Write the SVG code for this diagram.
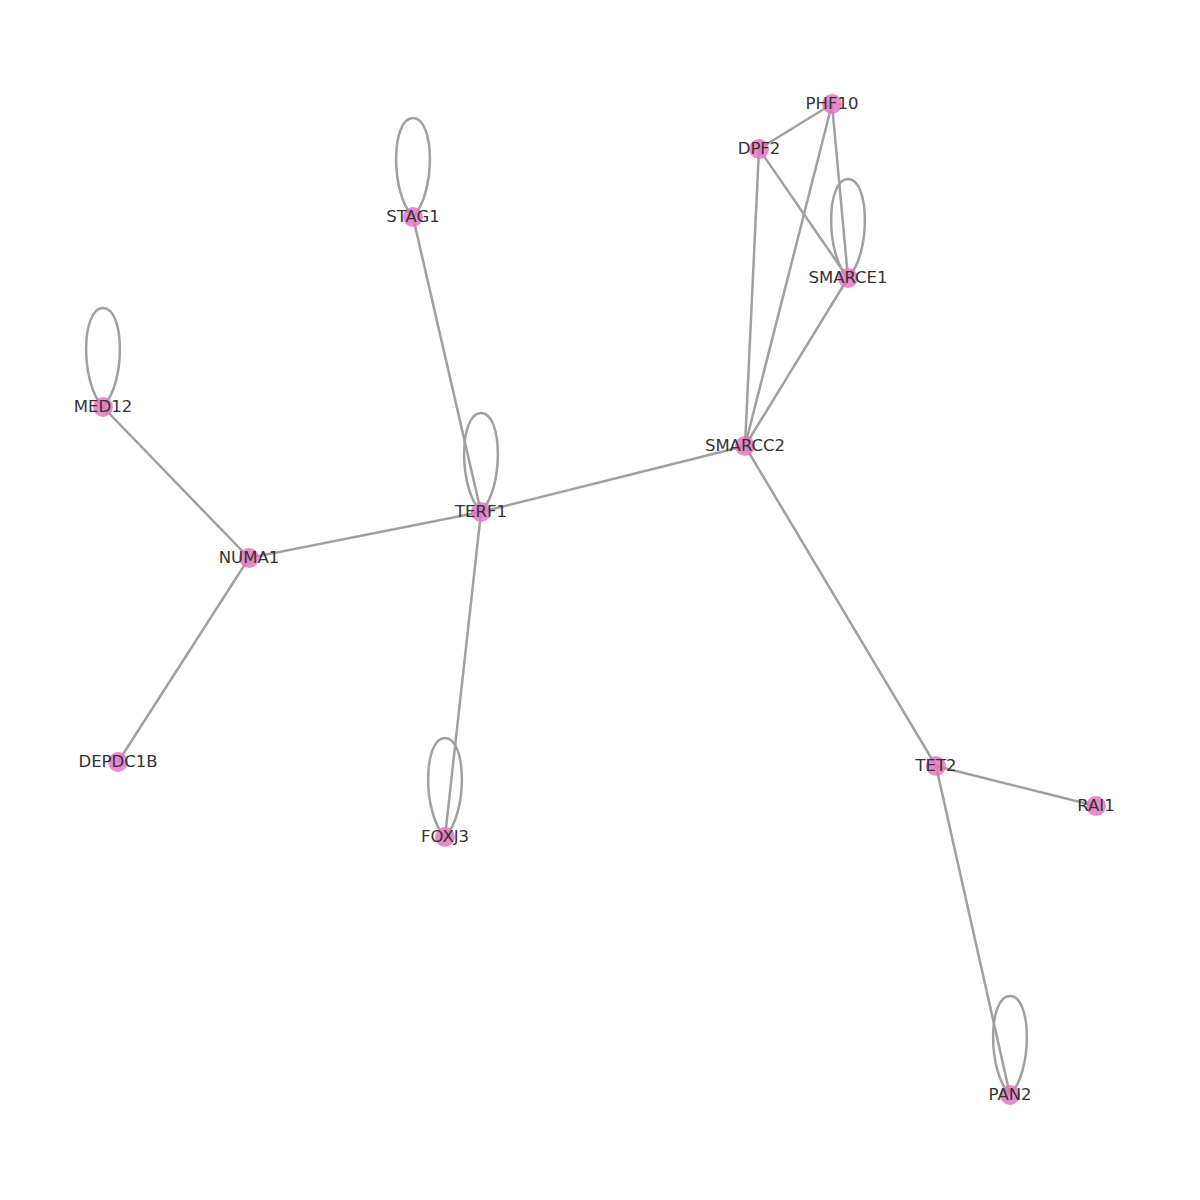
<svg xmlns="http://www.w3.org/2000/svg" width="1200" height="1200" viewBox="0 0 1200 1200">
<style>
.e{stroke:#a0a0a0;stroke-width:2.5;fill:none}
.n{fill:#e377c2;fill-opacity:0.85}
.t{font-family:"DejaVu Sans",sans-serif;font-size:16.5px;fill:#333;text-anchor:middle}
</style>
<rect width="1200" height="1200" fill="#fff"/>
<g id="edges">
<line class="e" x1="413" y1="217" x2="481" y2="512"/>
<line class="e" x1="103" y1="407" x2="249" y2="558"/>
<line class="e" x1="249" y1="558" x2="481" y2="512"/>
<line class="e" x1="249" y1="558" x2="118" y2="762"/>
<line class="e" x1="481" y1="512" x2="745" y2="446"/>
<line class="e" x1="481" y1="512" x2="445" y2="837"/>
<line class="e" x1="745" y1="446" x2="759" y2="149"/>
<line class="e" x1="745" y1="446" x2="832" y2="104"/>
<line class="e" x1="745" y1="446" x2="848" y2="278"/>
<line class="e" x1="745" y1="446" x2="936" y2="766"/>
<line class="e" x1="759" y1="149" x2="832" y2="104"/>
<line class="e" x1="759" y1="149" x2="848" y2="278"/>
<line class="e" x1="832" y1="104" x2="848" y2="278"/>
<line class="e" x1="936" y1="766" x2="1096" y2="806"/>
<line class="e" x1="936" y1="766" x2="1010" y2="1095"/>
<path class="e" d="M413 217 C390 193 391 118 413 118 C435 118 436 193 413 217"/>
<path class="e" d="M103 407 C80 383 81 308 103 308 C125 308 126 383 103 407"/>
<path class="e" d="M481 512 C458 488 459 413 481 413 C503 413 504 488 481 512"/>
<path class="e" d="M848 278 C825 254 826 179 848 179 C870 179 871 254 848 278"/>
<path class="e" d="M445 837 C422 813 423 738 445 738 C467 738 468 813 445 837"/>
<path class="e" d="M1010 1095 C987 1071 988 996 1010 996 C1032 996 1033 1071 1010 1095"/>
</g>
<g id="PHF10"><circle class="n" cx="832" cy="104" r="10"/><text class="t" x="832" y="109">PHF10</text></g>
<g id="DPF2"><circle class="n" cx="759" cy="149" r="10"/><text class="t" x="759" y="154">DPF2</text></g>
<g id="STAG1"><circle class="n" cx="413" cy="217" r="10"/><text class="t" x="413" y="222">STAG1</text></g>
<g id="SMARCE1"><circle class="n" cx="848" cy="278" r="10"/><text class="t" x="848" y="283">SMARCE1</text></g>
<g id="MED12"><circle class="n" cx="103" cy="407" r="10"/><text class="t" x="103" y="412">MED12</text></g>
<g id="SMARCC2"><circle class="n" cx="745" cy="446" r="10"/><text class="t" x="745" y="451">SMARCC2</text></g>
<g id="TERF1"><circle class="n" cx="481" cy="512" r="10"/><text class="t" x="481" y="517">TERF1</text></g>
<g id="NUMA1"><circle class="n" cx="249" cy="558" r="10"/><text class="t" x="249" y="563">NUMA1</text></g>
<g id="DEPDC1B"><circle class="n" cx="118" cy="762" r="10"/><text class="t" x="118" y="767">DEPDC1B</text></g>
<g id="TET2"><circle class="n" cx="936" cy="766" r="10"/><text class="t" x="936" y="771">TET2</text></g>
<g id="RAI1"><circle class="n" cx="1096" cy="806" r="10"/><text class="t" x="1096" y="811">RAI1</text></g>
<g id="FOXJ3"><circle class="n" cx="445" cy="837" r="10"/><text class="t" x="445" y="842">FOXJ3</text></g>
<g id="PAN2"><circle class="n" cx="1010" cy="1095" r="10"/><text class="t" x="1010" y="1100">PAN2</text></g>
</svg>
